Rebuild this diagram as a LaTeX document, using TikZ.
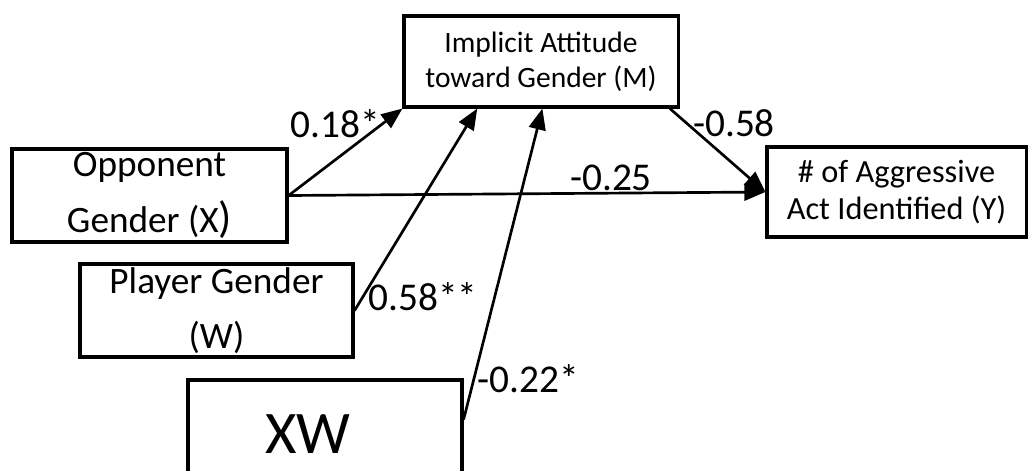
\documentclass[tikz,border=0pt]{standalone}
\usepackage{fontspec}
\setmainfont{Carlito}
\usetikzlibrary{arrows.meta,calc}

\begin{document}
\begin{tikzpicture}[x=0.025cm, y=-0.025cm]
        \tikzset{
            varbox/.style={draw=black, line width=2.2pt, inner sep=0pt, align=center},
            smalltext/.style={font=\fontsize{21}{25}\selectfont},
            largetext/.style={font=\fontsize{26.5}{39.5}\selectfont},
            pathlabel/.style={font=\fontsize{28}{30}\selectfont, inner sep=0pt},
            effect/.style={line width=1.9pt, -{Triangle[length=15pt, width=12pt]}}
        }
        \useasboundingbox (0,0) rectangle (1029,470);

        % variables
        \node[varbox, smalltext, minimum width=6.85cm, minimum height=2.275cm] (M) at (541,61.5)
            {Implicit Attitude\\toward Gender (M)};
        \node[varbox, largetext, minimum width=6.875cm, minimum height=2.325cm] (X) at (149.5,195.5)
            {Opponent\\Gender (X{\fontsize{31}{30}\selectfont)}};
        \node[varbox, largetext, minimum width=6.825cm, minimum height=2.325cm] (W) at (216.5,310.5)
            {Player Gender\\(W)};
        \node[varbox, font=\fontsize{43}{46}\selectfont, minimum width=6.85cm, minimum height=2.7cm] (XW) at (325,434)
            {XW\hspace*{24pt}};
        \node[varbox, font=\fontsize{23}{26}\selectfont, minimum width=6.475cm, minimum height=2.25cm] (Y) at (896.5,192)
            {\# of Aggressive\\Act Identified (Y)};

        % paths
        \draw[effect] (X.east) -- (M.south west);
        \draw[effect] (X.east) -- (Y.west);
        \draw[effect] (W.east) -- ($(M.south west)!0.27!(M.south east)$);
        \draw[effect] ($(XW.north east)!0.37!(XW.south east)$) -- ($(M.south west)!0.505!(M.south east)$);
        \draw[effect] ($(M.south west)!0.965!(M.south east)$) -- (Y.west);

        % coefficients
        \node[pathlabel] (a1) at (335,124) {0.18*};
        \node[pathlabel] (a2) at (423,297) {0.58**};
        \node[pathlabel] (a3) at (528,379) {-0.22*};
        \node[pathlabel] (b1) at (734,123) {-0.58};
        \node[pathlabel] (c1) at (611,178) {-0.25};
    \end{tikzpicture}
\end{document}
